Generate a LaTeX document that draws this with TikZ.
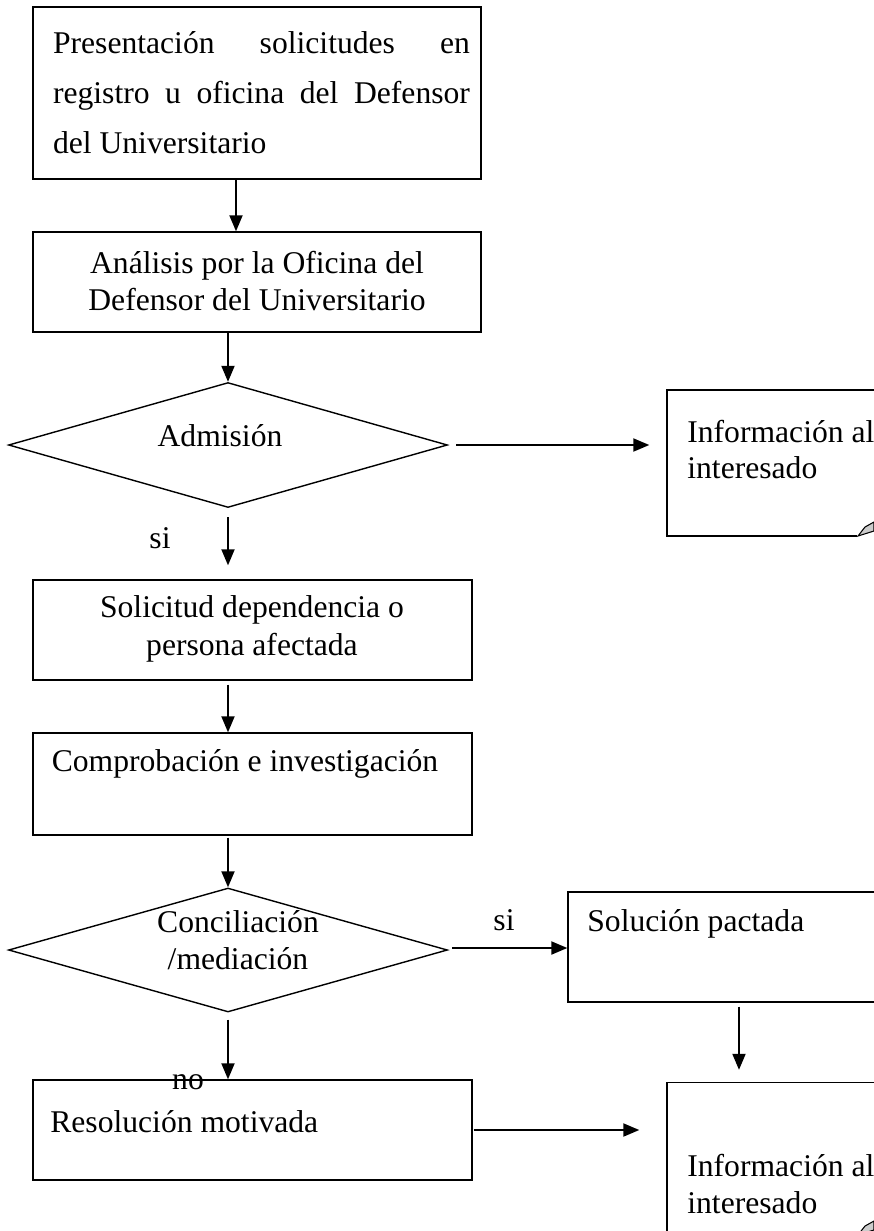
\documentclass[tikz,border=0pt]{standalone}
\usepackage{fontspec}
\setmainfont{Liberation Serif}
\usetikzlibrary{arrows.meta,calc,shapes.geometric}

\begin{document}
\begin{tikzpicture}[x=0.02cm,y=-0.02cm,
  box/.style={draw,line width=0.8pt,inner sep=0pt},
  decision/.style={draw,line width=0.8pt,shape=diamond,inner sep=0pt,minimum width=8.78cm,minimum height=2.5cm},
  txt/.style={inner sep=0pt,font=\fontsize{18}{21.6}\selectfont},
  arr/.style={line width=1.1pt,-{Triangle[length=0.32cm,width=0.26cm]}},
  curl/.style={fill=gray!40,draw,line width=0.6pt}]
\useasboundingbox (0,0) rectangle (874,1231);\clip (0,0) rectangle (874,1231);
% left column
\node[box,minimum width=8.96cm,minimum height=3.44cm] (b1) at (257,93){};
\node[txt,text width=8.34cm,align=justify,font=\fontsize{18}{28.5}\selectfont] (t1) at (261.5,93)
  {Presentación solicitudes en\linebreak registro u oficina del Defensor\linebreak del Universitario};
\node[box,minimum width=8.96cm,minimum height=2cm] (b2) at (257,282){};
\node[txt,align=center] (t2) at (257,281){Análisis por la Oficina del\\Defensor del Universitario};
\node[decision] (d1) at (228,445){};
\node[txt] (t3) at (220,436){Admisión};
\node[txt] (si1) at (160,538){si};
\node[box,minimum width=8.78cm,minimum height=2cm] (b3) at (252.5,630){};
\node[txt,align=center] (t4) at (252,629){Solicitud dependencia o\\persona afectada};
\node[box,minimum width=8.78cm,minimum height=2.04cm] (b4) at (252.5,784){};
\node[txt] (t5) at (245,764){Comprobación e investigación};
\node[decision,minimum height=2.48cm] (d2) at (228,950){};
\node[txt,align=center,font=\fontsize{18}{21}\selectfont] (t6) at (238,940){Conciliación\\/mediación};
\node[box,minimum width=8.78cm,minimum height=2cm] (b6) at (252.5,1130){};
\node[txt,anchor=west] (t7) at (50,1122){Resolución motivada};
\node[txt] (no) at (188,1082){no};
% right column
\node[box,minimum width=4.46cm,minimum height=2.92cm] (doc1) at (778.5,463){};
\node[txt,anchor=west,align=left,font=\fontsize{18}{20.5}\selectfont] (t8) at (687,450){Información al\\interesado};
\fill[white] (857,529) rectangle (876,539);\filldraw[curl] (858,536)--(865,527)--(874,522)--(874,531)--cycle;
\node[txt] (si2) at (504,920){si};
\node[box,minimum width=6.44cm,minimum height=2.2cm] (b5) at (729,947){};
\node[txt,anchor=west] (t9) at (587,924){Solución pactada};
\node[box,minimum width=4.46cm,minimum height=3.1cm] (doc2) at (778.5,1160){};
\node[txt,anchor=west,align=left,font=\fontsize{18}{20.5}\selectfont] (t10) at (687,1184){Información al\\interesado};
\filldraw[curl] (858,1235)--(865,1226)--(874,1221)--(874,1230)--cycle;
% connectors
\draw[arr] ([xshift=-0.42cm]b1.south)--([xshift=-0.42cm]b2.north);
\draw[arr] (b2.south -| d1.north)--(d1.north);
\draw[arr] ($(d1.east)+(8,0)$)--($(d1.east -| doc1.west)+(-17,0)$);
\draw[arr] ($(d1.south)+(0,9)$)--($(b3.north -| d1.south)+(0,-14)$);
\draw[arr] ($(b3.south -| d1.south)+(0,4)$)--(b4.north -| d1.south);
\draw[arr] ($(b4.south -| d2.north)+(0,2)$)--(d2.north);
\draw[arr] ($(d2.east)+(4,-2)$)--($(d2.east -| b5.west)+(0,-2)$);
\draw[arr] ($(b5.south)+(10,4)$)--($(doc2.north -| b5.south)+(10,-12)$);
\draw[arr] ($(d2.south)+(0,7)$)--(b6.north -| d2.south);
\draw[arr] ($(b6.east)+(1,0)$)--($(b6.east -| doc2.west)+(-27,0)$);
\end{tikzpicture}
\end{document}
